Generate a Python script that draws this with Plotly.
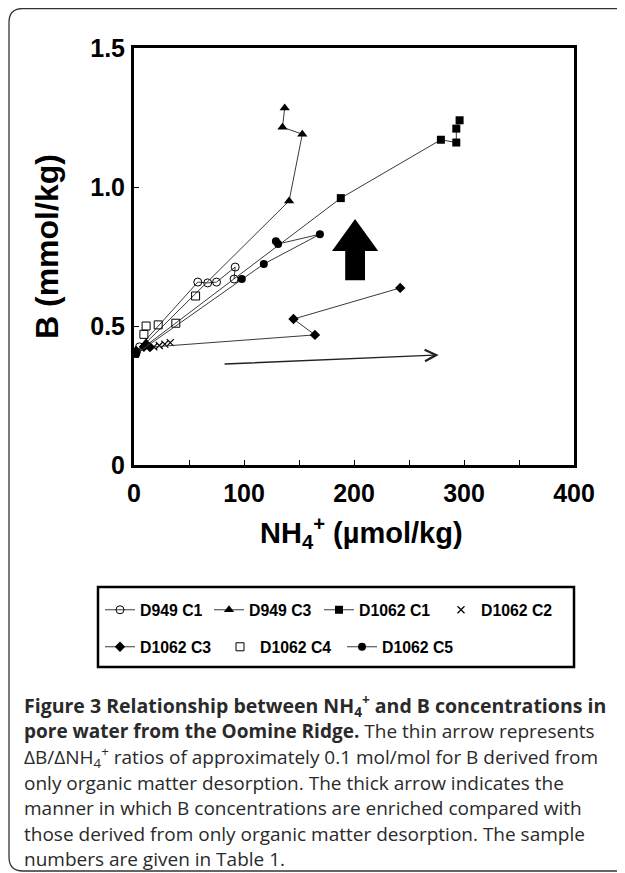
import plotly.graph_objects as go

# ---------------- data ----------------
series_names = ["D949 C1", "D949 C3", "D1062 C1", "D1062 C2", "D1062 C3", "D1062 C4", "D1062 C5"]

d949c1_nh4 = [5, 58, 67, 75, 92, 91]
d949c1_b = [0.425, 0.658, 0.655, 0.658, 0.712, 0.669]

d949c3_nh4 = [2, 11, 141, 153, 135, 137]
d949c3_b = [0.41, 0.44, 0.95, 1.19, 1.215, 1.284]

d1062c1_nh4 = [1, 188, 279, 293, 293, 296]
d1062c1_b = [0.40, 0.96, 1.17, 1.16, 1.21, 1.24]

d1062c2_nh4 = [18, 23, 28, 33]
d1062c2_b = [0.425, 0.43, 0.435, 0.44]

d1062c3_nh4 = [2, 9, 14.5, 164.5, 145, 242]
d1062c3_b = [0.41, 0.425, 0.424, 0.468, 0.525, 0.637]

d1062c4_nh4 = [9, 11, 22, 38, 56]
d1062c4_b = [0.47, 0.50, 0.504, 0.51, 0.608]

d1062c5_nh4 = [2, 98, 118, 169, 131, 129]
d1062c5_b = [0.40, 0.669, 0.723, 0.83, 0.795, 0.805]

x_ticks = [0, 100, 200, 300, 400]
y_ticks = [0, 0.5, 1.0, 1.5]
y_tick_labels = ["0", "0.5", "1.0", "1.5"]

# thin arrow (organic-matter desorption trend)
thin_arrow_nh4 = [81, 277]
thin_arrow_b = [0.363, 0.396]

caption_lines = [
    "<b>Figure 3 Relationship between NH<sub>4</sub><sup>+</sup> and B concentrations in</b>",
    "<b>pore water from the Oomine Ridge.</b> The thin arrow represents",
    "ΔB/ΔNH<sub>4</sub><sup>+</sup> ratios of approximately 0.1 mol/mol for B derived from",
    "only organic matter desorption. The thick arrow indicates the",
    "manner in which B concentrations are enriched compared with",
    "those derived from only organic matter desorption. The sample",
    "numbers are given in Table 1.",
]

# ---------------- figure ----------------
# the page places the plot 8 px from the window's top-left corner
OFF = 8
W, H = 625 - OFF, 873 - OFF
FONT = "Liberation Sans, Arial, sans-serif"
LINE_COL = "#3a3a3a"


def px_x(p):
    return (p - OFF) / W


def px_y(p):
    return 1 - (p - OFF) / H


fig = go.Figure()

series = [
    (d949c1_nh4, d949c1_b, "lines+markers", dict(symbol="circle-open", size=8, color="black", line=dict(width=1))),
    (d949c3_nh4, d949c3_b, "lines+markers", dict(symbol="triangle-up", size=9, color="black")),
    (d1062c1_nh4, d1062c1_b, "lines+markers", dict(symbol="square", size=8, color="black")),
    (d1062c2_nh4, d1062c2_b, "markers", dict(symbol="x-thin-open", size=7, color="black", line=dict(width=1.2, color="black"))),
    (d1062c3_nh4, d1062c3_b, "lines+markers", dict(symbol="diamond", size=8, color="black")),
    (d1062c4_nh4, d1062c4_b, "markers", dict(symbol="square-open", size=8, color="black", line=dict(width=1))),
    (d1062c5_nh4, d1062c5_b, "lines+markers", dict(symbol="circle", size=8, color="black")),
]

# legend item positions (px in window): start x, row y
legend_pos = [(100, 610), (209, 610), (319, 610), (441, 610), (100, 647), (220, 647), (342, 647)]

for i, ((xs, ys, mode, mk), name) in enumerate(zip(series, series_names)):
    lg = "legend" if i == 0 else f"legend{i+1}"
    fig.add_trace(go.Scatter(
        x=xs, y=ys, mode=mode, name=name, marker=mk,
        line=dict(color=LINE_COL, width=1),
        legend=lg,
    ))
    lx, ly = legend_pos[i]
    fig.update_layout(**{lg: dict(
        x=px_x(lx), y=px_y(ly), xanchor="left", yanchor="middle",
        bgcolor="rgba(0,0,0,0)", borderwidth=0,
        font=dict(family=FONT, size=15.8, color="black", weight="bold"),
        itemsizing="trace",
    )})

# thin arrow
fig.add_annotation(
    x=thin_arrow_nh4[1], y=thin_arrow_b[1], ax=thin_arrow_nh4[0], ay=thin_arrow_b[0],
    xref="x", yref="y", axref="x", ayref="y", text="", showarrow=True,
    arrowhead=5, arrowsize=1.6, arrowwidth=1.4, arrowcolor="#222",
)

# thick arrow (block arrow pointing up)
tip_x, tip_y = 201, 0.885
head_base_y, bottom_y = 0.77, 0.665
head_half, shaft_half = 21, 9
fig.add_shape(
    type="path", xref="x", yref="y",
    path=(f"M{tip_x},{tip_y} L{tip_x+head_half},{head_base_y} L{tip_x+shaft_half},{head_base_y} "
          f"L{tip_x+shaft_half},{bottom_y} L{tip_x-shaft_half},{bottom_y} L{tip_x-shaft_half},{head_base_y} "
          f"L{tip_x-head_half},{head_base_y} Z"),
    fillcolor="black", line=dict(width=0),
)

# legend box
fig.add_shape(type="rect", xref="paper", yref="paper",
              x0=px_x(98), x1=px_x(574), y0=px_y(587), y1=px_y(667),
              line=dict(color="black", width=2.5))

# outer rounded frame
l, t, r, b, rad = 9, 8.5, 660, 871, 14
path = (f"M{px_x(l)},{px_y(t+rad)} Q{px_x(l)},{px_y(t)} {px_x(l+rad)},{px_y(t)} "
        f"L{px_x(r)},{px_y(t)} L{px_x(r)},{px_y(b)} L{px_x(l+rad)},{px_y(b)} "
        f"Q{px_x(l)},{px_y(b)} {px_x(l)},{px_y(b-rad)} Z")
fig.add_shape(type="path", xref="paper", yref="paper", path=path,
              line=dict(color="#333", width=1.3))

# caption
cap_y = [705, 731, 757, 783, 808, 834, 859]
for i, (txt, yy) in enumerate(zip(caption_lines, cap_y)):
    fig.add_annotation(
        x=px_x(22), y=px_y(yy), xref="paper", yref="paper",
        xanchor="left", yanchor="middle", showarrow=False, align="left",
        text=txt, font=dict(family="Open Sans, sans-serif", size=19.5 if i == 0 else 19, color="#2a2a2a"),
    )

# axis titles
fig.add_annotation(
    x=px_x(47), y=px_y(246), xref="paper", yref="paper",
    xanchor="center", yanchor="middle", showarrow=False, textangle=-90,
    text="<b>B (mmol/kg)</b>", font=dict(family=FONT, size=32, color="black"),
)
fig.add_annotation(
    x=px_x(362), y=px_y(533), xref="paper", yref="paper",
    xanchor="center", yanchor="middle", showarrow=False,
    text="<b>NH<sub>4</sub><sup>+</sup> (µmol/kg)</b>", font=dict(family=FONT, size=29, color="black"),
)

fig.update_layout(
    width=W, height=H,
    margin=dict(l=0, r=0, t=0, b=0, autoexpand=False),
    paper_bgcolor="white", plot_bgcolor="white",
    showlegend=True,
    font=dict(family=FONT, color="black"),
)

fig.update_xaxes(
    domain=[px_x(134), px_x(574)], range=[0, 400],
    tickvals=x_ticks, ticktext=[str(v) for v in x_ticks],
    ticks="inside", ticklen=5, tickwidth=1, tickcolor="black",
    minor=dict(dtick=50, ticks="inside", ticklen=5, tickwidth=1, tickcolor="black"),
    showline=True, linewidth=3, linecolor="black", mirror=True,
    showgrid=False, zeroline=False, automargin=False,
    tickfont=dict(family=FONT, size=25, color="black", weight="bold"),
    ticklabelstandoff=4,
)
fig.update_yaxes(
    domain=[px_y(465), px_y(48)], range=[0, 1.5],
    tickvals=y_ticks, ticktext=y_tick_labels,
    ticks="inside", ticklen=5, tickwidth=1, tickcolor="black",
    showline=True, linewidth=3, linecolor="black", mirror=True,
    showgrid=False, zeroline=False, automargin=False,
    tickfont=dict(family=FONT, size=25, color="black", weight="bold"),
    ticklabelstandoff=1,
)

fig.write_html("out.html")
